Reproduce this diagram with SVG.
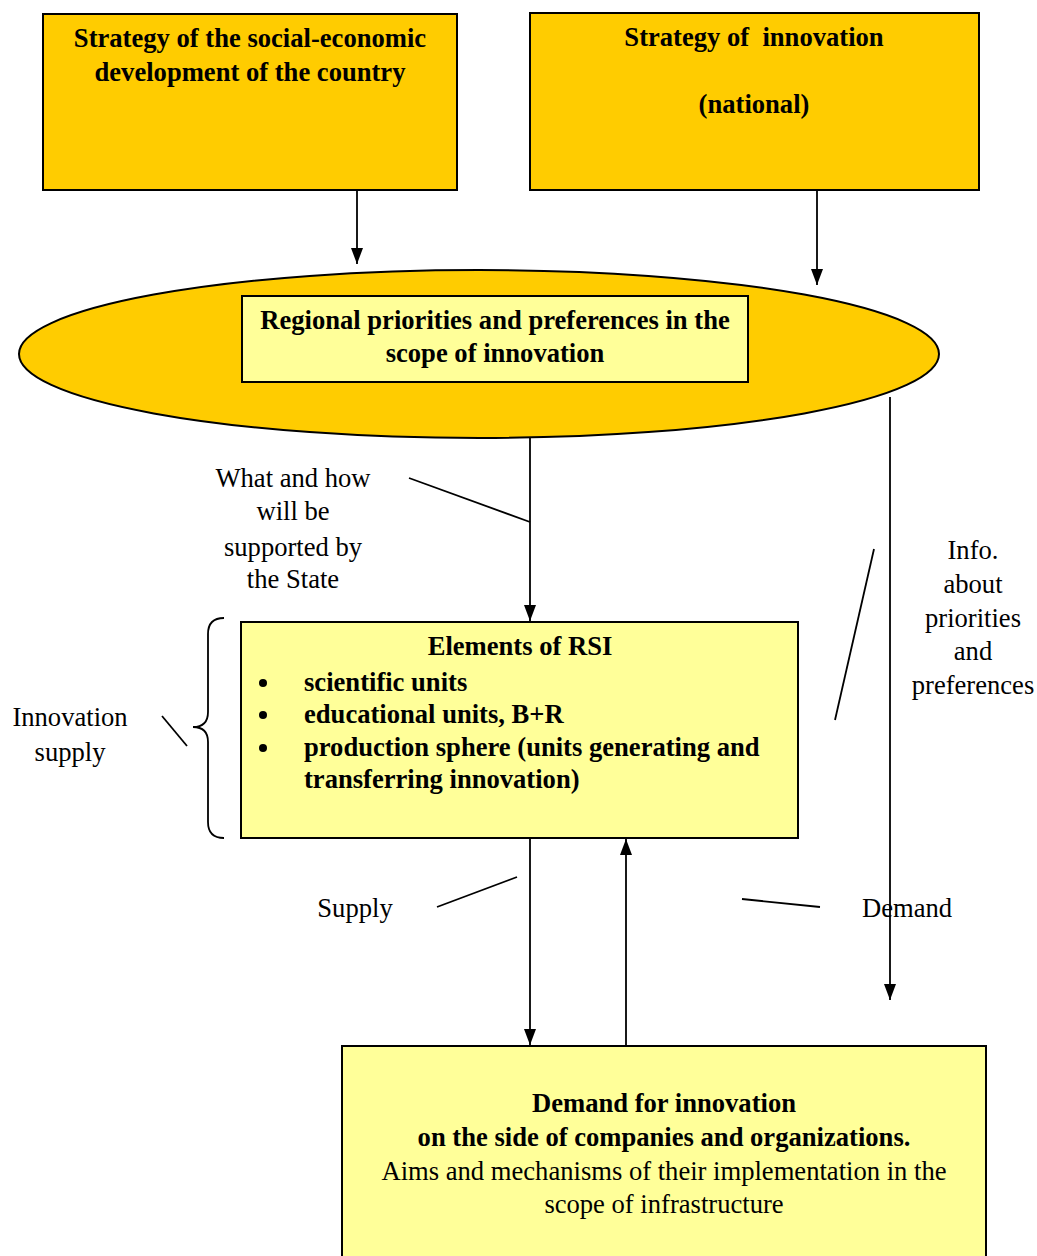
<svg xmlns="http://www.w3.org/2000/svg" width="1037" height="1256" viewBox="0 0 1037 1256">
<defs>
<marker id="ah" viewBox="0 0 16 12" refX="16" refY="6" markerWidth="16" markerHeight="12" markerUnits="userSpaceOnUse" orient="auto-start-reverse">
<path d="M0,0 L16,6 L0,12 z" fill="#000"/>
</marker>
<style>
.dark{fill:#FFCC00;stroke:#000;stroke-width:2}
.light{fill:#FFFF99;stroke:#000;stroke-width:2}
.b{font-family:"Liberation Serif",serif;font-weight:bold;font-size:26.6px;fill:#000;text-anchor:middle}
.r{font-family:"Liberation Serif",serif;font-size:26.6px;fill:#000;text-anchor:middle}
.bl{font-family:"Liberation Serif",serif;font-weight:bold;font-size:26.6px;fill:#000}
.ln{stroke:#000;stroke-width:1.8;fill:none}
.ar{stroke:#000;stroke-width:1.8;fill:none;marker-end:url(#ah)}
</style>
</defs>
<rect width="1037" height="1256" fill="#fff"/>
<g id="node-strategy-social">
<rect class="dark" x="43" y="14" width="414" height="176"/>
<text class="b" x="250" y="47">Strategy of the social-economic</text>
<text class="b" x="250" y="81">development of the country</text>
</g>
<g id="node-strategy-innovation">
<rect class="dark" x="530" y="13" width="449" height="177"/>
<text class="b" x="754" y="46" xml:space="preserve">Strategy of  innovation</text>
<text class="b" x="754" y="113">(national)</text>
</g>
<g id="node-regional">
<ellipse class="dark" cx="479" cy="354" rx="460" ry="84"/>
<rect class="light" x="242" y="296" width="506" height="86"/>
<text class="b" x="495" y="329">Regional priorities and preferences in the</text>
<text class="b" x="495" y="362">scope of innovation</text>
</g>
<g id="node-rsi">
<rect class="light" x="241" y="622" width="557" height="216"/>
<text class="b" x="520" y="655">Elements of RSI</text>
<circle cx="263" cy="683" r="4"/>
<circle cx="263" cy="715" r="4"/>
<circle cx="263" cy="748" r="4"/>
<text class="bl" x="304" y="691">scientific units</text>
<text class="bl" x="304" y="723">educational units, B+R</text>
<text class="bl" x="304" y="756">production sphere (units generating and</text>
<text class="bl" x="304" y="788">transferring innovation)</text>
</g>
<g id="node-demand">
<rect class="light" x="342" y="1046" width="644" height="216"/>
<text class="b" x="664" y="1112">Demand for innovation</text>
<text class="b" x="664" y="1146">on the side of companies and organizations.</text>
<text class="r" x="664" y="1180">Aims and mechanisms of their implementation in the</text>
<text class="r" x="664" y="1213">scope of infrastructure</text>
</g>
<g id="labels">
<text class="r" x="293" y="487">What and how</text>
<text class="r" x="293" y="520">will be</text>
<text class="r" x="293" y="556">supported by</text>
<text class="r" x="293" y="588">the State</text>
<text class="r" x="973" y="559">Info.</text>
<text class="r" x="973" y="593">about</text>
<text class="r" x="973" y="627">priorities</text>
<text class="r" x="973" y="660">and</text>
<text class="r" x="973" y="694">preferences</text>
<text class="r" x="70" y="726">Innovation</text>
<text class="r" x="70" y="761">supply</text>
<text class="r" x="355" y="917">Supply</text>
<text class="r" x="907" y="917">Demand</text>
</g>
<g id="connectors">
<line class="ar" x1="357" y1="190" x2="357" y2="264"/>
<line class="ar" x1="817" y1="190" x2="817" y2="285"/>
<line class="ar" x1="530" y1="438" x2="530" y2="621"/>
<line class="ar" x1="890" y1="397" x2="890" y2="1000"/>
<line class="ar" x1="530" y1="838" x2="530" y2="1045"/>
<line class="ar" x1="626" y1="1045" x2="626" y2="839"/>
<line class="ln" x1="409" y1="478" x2="530" y2="522"/>
<line class="ln" x1="874" y1="549" x2="835" y2="720"/>
<line class="ln" x1="162" y1="716" x2="187" y2="746"/>
<line class="ln" x1="437" y1="907" x2="517" y2="877"/>
<line class="ln" x1="742" y1="899" x2="820" y2="907"/>
<path class="ln" d="M224,618 Q208,618 208,634 L208,712 Q208,727 193,727 Q208,727 208,742 L208,822 Q208,838 224,838"/>
</g>
</svg>
